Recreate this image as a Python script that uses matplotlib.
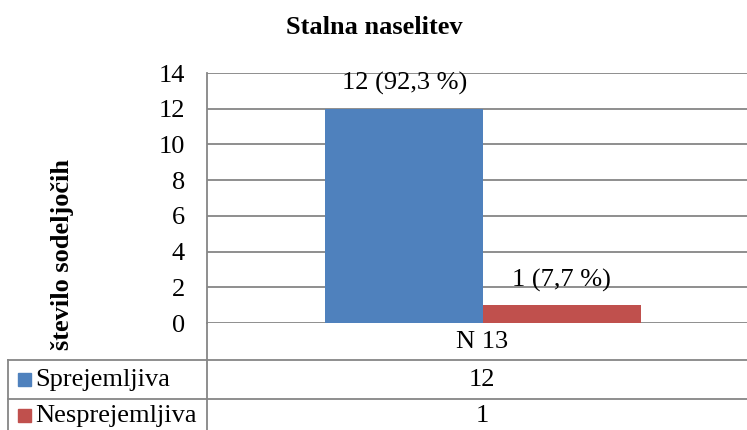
import matplotlib
matplotlib.use("Agg")
import matplotlib.pyplot as plt
from matplotlib.lines import Line2D
from matplotlib.patches import Rectangle

title = "Stalna naselitev"
category = "N 13"
series_names = ["Sprejemljiva", "Nesprejemljiva"]
series_values = [12, 1]
series_colors = ["#4F81BD", "#C0504D"]
y_ticks = [0, 2, 4, 6, 8, 10, 12, 14]
y_label = "število sodeljočih"

plt.rcParams['font.family'] = ['Liberation Serif', 'DejaVu Serif']

W, H = 747, 430
fig = plt.figure(figsize=(W / 100, H / 100), dpi=100)

def fx(px):
    return px / W

def fy(py):
    return 1 - py / H

FS = 19
grid_c = "#868686"
left_px, top_px, bottom_px = 207, 73, 323
ax = fig.add_axes([fx(left_px), fy(bottom_px), 552 / W, (bottom_px - top_px) / H])
ax.set_xlim(-0.5, 0.5)
ax.set_ylim(0, 14)

n = len(series_values)
bw = 1 / (n + 1.5)
total = sum(series_values)
for i, (v, c) in enumerate(zip(series_values, series_colors)):
    xc = (i - (n - 1) / 2) * bw
    ax.bar(xc, v, width=bw, color=c, zorder=3)
    pct = f"{v / total * 100:.1f}".replace(".", ",")
    ax.annotate(f"{v} ({pct} %)", (xc, v), xytext=(0, 18), textcoords="offset points",
                ha="center", va="center", fontsize=FS)

ax.set_yticks(y_ticks)
ax.set_yticklabels([str(t) for t in y_ticks], fontsize=FS)
ax.tick_params(axis="y", length=0, pad=16)
ax.set_xticks([])
ax.yaxis.grid(True, color=grid_c, linewidth=1.3, zorder=0)
for s in ["top", "right", "bottom"]:
    ax.spines[s].set_visible(False)
ax.spines["left"].set_color(grid_c)
ax.spines["left"].set_linewidth(1.3)

fig.text(fx(374), fy(28), title, ha="center", va="center", fontsize=FS, fontweight="bold")
fig.text(fx(63), fy(255), y_label, ha="center", va="center", rotation=90,
         fontsize=FS, fontweight="bold")

# data table
def hline(y, x0, x1):
    fig.add_artist(Line2D([fx(x0), fx(x1)], [fy(y), fy(y)], color=grid_c, linewidth=1.3))

def vline(x, y0, y1):
    fig.add_artist(Line2D([fx(x), fx(x)], [fy(y0), fy(y1)], color=grid_c, linewidth=1.3))

vline(left_px, bottom_px, H)
vline(8, 360, H)
hline(360, 8, W)
hline(399, 8, W)

fig.text(fx(482), fy(342), category, ha="center", va="center", fontsize=FS)
row_y = [380, 416]
for name, v, c, ry in zip(series_names, series_values, series_colors, row_y):
    fig.add_artist(Rectangle((fx(18), fy(ry + 6)), 13 / W, 13 / H, color=c,
                             transform=fig.transFigure))
    fig.text(fx(35), fy(ry), name, ha="left", va="center", fontsize=FS)
    fig.text(fx(482), fy(ry), str(v), ha="center", va="center", fontsize=FS)

fig.savefig("out.png", dpi=100)
